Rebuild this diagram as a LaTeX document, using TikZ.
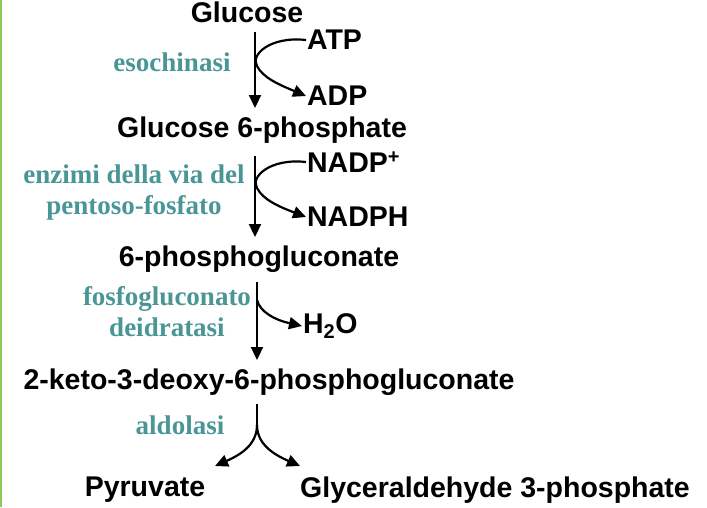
\documentclass[tikz,border=0pt]{standalone}
\usepackage{fontspec}
\setmainfont{Liberation Serif}
\newfontfamily\molfont{Liberation Sans}
\usetikzlibrary{arrows.meta}
\definecolor{enzteal}{RGB}{74,150,150}
\definecolor{edgegreen}{RGB}{140,200,90}

\tikzset{
	mol/.style={font=\molfont\bfseries\fontsize{28.5}{30}\selectfont, inner sep=0pt},
	enz/.style={font=\bfseries\fontsize{27}{31}\selectfont, text=enzteal, inner sep=0pt, align=center},
}

\begin{document}
\begin{tikzpicture}[x=1pt, y=-1pt, line width=2.2pt, arrows={-Triangle[width=12pt,length=13pt]}]
	\useasboundingbox (0,0) rectangle (707,507);
	\fill[edgegreen] (0,0) rectangle (2,507);

	\node[mol] (glc) at (247,12) {Glucose};
	\node[mol, anchor=west] (atp) at (306,40) {ATP};
	\node[mol, anchor=west] (adp) at (306,96) {ADP};
	\node[mol] (g6p) at (262,130) {Glucose 6-phosphate};
	\node[mol, anchor=west] (nadp) at (306,162) {NADP\textsuperscript{+}};
	\node[mol, anchor=west] (nadph) at (306,217) {NADPH};
	\node[mol] (pg) at (259,259) {6-phosphogluconate};
	\node[mol, anchor=west] (water) at (302,326) {H\textsubscript{2}O};
	\node[mol] (kdpg) at (269,382) {2-keto-3-deoxy-6-phosphogluconate};
	\node[mol] (pyr) at (145,490) {Pyruvate};
	\node[mol] (gap) at (495,490) {Glyceraldehyde 3-phosphate};

	\node[enz] (hk) at (172,62) {esochinasi};
	\node[enz] (ppp) at (134,193) {enzimi della via del\\pentoso-fosfato};
	\node[enz] (edd) at (167,312) {fosfogluconato\\deidratasi};
	\node[enz] (ald) at (180,425) {aldolasi};

	\draw (255,32) -- (255,108);
	\draw (atp.west) .. controls (270,36) and (250,55) .. (257,66) .. controls (263,78) and (280,85) .. (adp.west);
	\draw (255,156) -- (255,237);
	\draw (nadp.west) .. controls (270,158) and (250,177) .. (257,188) .. controls (263,200) and (280,207) .. (nadph.west);
	\draw (257,282) -- (257,360);
	\draw[-] (257,282) -- (257,300);
	\draw (257,300) .. controls (260,312) and (275,320) .. (water.west);
	\draw[-] (257,404) -- (257,425);
	\draw (257,425) .. controls (257,445) and (240,455) .. (215,466);
	\draw (257,425) .. controls (257,445) and (275,455) .. (300,466);
\end{tikzpicture}
\end{document}
